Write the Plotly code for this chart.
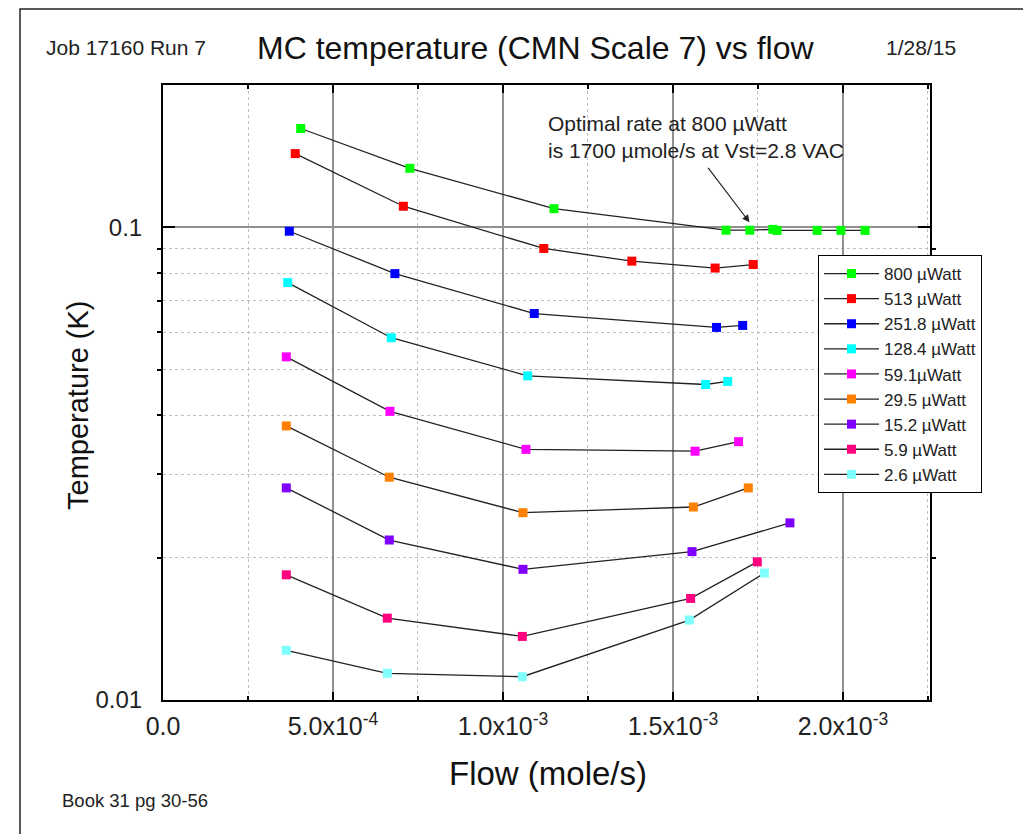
import plotly.graph_objects as go
import numpy as np

# ---- data (flow in mole/s, temperature in K) ----
series_names = ["800 \u00b5Watt", "513 \u00b5Watt", "251.8 \u00b5Watt", "128.4 \u00b5Watt",
                "59.1\u00b5Watt", "29.5 \u00b5Watt", "15.2 \u00b5Watt", "5.9 \u00b5Watt", "2.6 \u00b5Watt"]
series_colors = ["#00FF00", "#FF0000", "#0000FF", "#00FFFF", "#FF00FF",
                 "#FF8000", "#8000FF", "#FF0080", "#80FFFF"]

flow_800 = [0.405e-3, 0.726e-3, 1.150e-3, 1.656e-3, 1.726e-3, 1.794e-3, 1.806e-3, 1.924e-3, 1.994e-3, 2.065e-3]
temp_800 = [0.1618, 0.1333, 0.1095, 0.0986, 0.0986, 0.0990, 0.0985, 0.0985, 0.0985, 0.0985]

flow_513 = [0.389e-3, 0.707e-3, 1.120e-3, 1.379e-3, 1.624e-3, 1.736e-3]
temp_513 = [0.1432, 0.1108, 0.0902, 0.0848, 0.0820, 0.0834]

flow_251 = [0.3715e-3, 0.682e-3, 1.092e-3, 1.628e-3, 1.705e-3]
temp_251 = [0.0981, 0.0798, 0.0657, 0.0614, 0.0620]

flow_128 = [0.3668e-3, 0.6715e-3, 1.0726e-3, 1.596e-3, 1.661e-3]
temp_128 = [0.0764, 0.0584, 0.0485, 0.0465, 0.0472]

flow_59 = [0.3627e-3, 0.6676e-3, 1.0676e-3, 1.565e-3, 1.693e-3]
temp_59 = [0.0532, 0.0408, 0.0339, 0.0336, 0.0352]

flow_29 = [0.3627e-3, 0.6656e-3, 1.0588e-3, 1.560e-3, 1.7215e-3]
temp_29 = [0.0380, 0.0296, 0.0249, 0.0256, 0.0281]

flow_15 = [0.3627e-3, 0.6656e-3, 1.0588e-3, 1.5559e-3, 1.8441e-3]
temp_15 = [0.0281, 0.0218, 0.0189, 0.0206, 0.0237]

flow_5 = [0.3627e-3, 0.6597e-3, 1.0568e-3, 1.552e-3, 1.748e-3]
temp_5 = [0.0184, 0.0149, 0.01363, 0.0164, 0.0196]

flow_2 = [0.3627e-3, 0.6597e-3, 1.0568e-3, 1.548e-3, 1.769e-3]
temp_2 = [0.01274, 0.01139, 0.01120, 0.01476, 0.01856]

all_flows = [flow_800, flow_513, flow_251, flow_128, flow_59, flow_29, flow_15, flow_5, flow_2]
all_temps = [temp_800, temp_513, temp_251, temp_128, temp_59, temp_29, temp_15, temp_5, temp_2]

x_tickvals = [0, 5e-4, 1e-3, 1.5e-3, 2e-3]
x_ticktext = ["0.0", "5.0x10<sup>-4</sup>", "1.0x10<sup>-3</sup>", "1.5x10<sup>-3</sup>", "2.0x10<sup>-3</sup>"]
y_tickvals = [0.01, 0.1]
y_ticktext = ["0.01", "0.1"]
y_minorvals = [0.02, 0.03, 0.04, 0.05, 0.06, 0.07, 0.08, 0.09]

# annotation arrow (flow, temperature)
arrow_head = (1.725e-3, 0.1025)
arrow_tail = (1.60e-3, 0.1346)

FONT = "Liberation Sans, Arial, sans-serif"

fig = go.Figure()
for name, color, xs, ys in zip(series_names, series_colors, all_flows, all_temps):
    fig.add_trace(go.Scatter(
        x=xs, y=ys, name=name, mode="lines+markers",
        line=dict(color="#222222", width=1.3),
        marker=dict(symbol="square", size=9, color=color, line=dict(width=0)),
    ))

fig.update_layout(
    width=1031, height=834,
    paper_bgcolor="white", plot_bgcolor="white",
    margin=dict(l=155, r=109, t=77, b=142),
    font=dict(family=FONT, color="#222222"),
    showlegend=True,
    legend=dict(x=0.854, y=0.7236, xanchor="left", yanchor="top",
                bgcolor="white", bordercolor="black", borderwidth=1,
                font=dict(size=17, family=FONT, color="#222222"),
                tracegroupgap=0, itemwidth=55),
    xaxis=dict(
        range=[0, 2.256e-3], tickmode="array", tickvals=x_tickvals, ticktext=x_ticktext,
        tickfont=dict(size=25), ticks="inside", ticklen=8, tickwidth=2, tickcolor="black",
        showline=True, linecolor="black", linewidth=2, mirror="allticks",
        showgrid=True, gridcolor="#909090", gridwidth=1.5, zeroline=False,
        ticklabelstandoff=3,
        minor=dict(dtick=2.5e-4, tick0=0, ticks="inside", ticklen=4, tickcolor="black",
                   showgrid=True, gridcolor="#c0c0c0", griddash="dot", gridwidth=1),
    ),
    yaxis=dict(
        type="log", range=[-2, np.log10(0.2)], tickmode="array",
        tickvals=y_tickvals, ticktext=y_ticktext,
        tickfont=dict(size=24), ticks="inside", ticklen=12, tickwidth=2, tickcolor="black",
        showline=True, linecolor="black", linewidth=2, mirror="allticks",
        showgrid=True, gridcolor="#909090", gridwidth=1.5, zeroline=False,
        ticklabelstandoff=14,
        minor=dict(tickmode="array", tickvals=y_minorvals, ticks="outside", ticklen=4,
                   tickcolor="black", showgrid=True, gridcolor="#c0c0c0",
                   griddash="dot", gridwidth=1),
    ),
)

def px_x(px):
    return (px - 163) / 767.0

def px_y(py):
    return (700 - py) / 615.0

annotations = [
    dict(text="MC temperature (CMN Scale 7) vs flow", x=px_x(535), y=px_y(48),
         font=dict(size=32, family=FONT, color="#111111")),
    dict(text="Job 17160 Run 7", x=px_x(44), y=px_y(47), xanchor="left",
         font=dict(size=21, family=FONT, color="#222222")),
    dict(text="1/28/15", x=px_x(921), y=px_y(47),
         font=dict(size=21, family=FONT, color="#222222")),
    dict(text="Book 31 pg 30-56", x=px_x(60), y=px_y(800), xanchor="left",
         font=dict(size=18.5, family=FONT, color="#222222")),
    dict(text="Flow (mole/s)", x=px_x(548), y=px_y(773),
         font=dict(size=33, family=FONT, color="#111111")),
    dict(text="Temperature (K)", x=px_x(78), y=px_y(405), textangle=-90,
         font=dict(size=29, family=FONT, color="#111111")),
    dict(text="Optimal rate at 800 \u00b5Watt<br>is 1700 \u00b5mole/s at Vst=2.8 VAC",
         x=px_x(546), y=px_y(110), xanchor="left", yanchor="top", align="left",
         font=dict(size=21, family=FONT, color="#222222")),
]
for a in annotations:
    a.setdefault("xref", "paper")
    a.setdefault("yref", "paper")
    a.setdefault("showarrow", False)
    a.setdefault("xanchor", "center")
    a.setdefault("yanchor", "middle")
    fig.add_annotation(**a)

fig.add_annotation(
    x=arrow_head[0], y=np.log10(arrow_head[1]), xref="x", yref="y",
    ax=arrow_tail[0], ay=np.log10(arrow_tail[1]), axref="x", ayref="y",
    text="", showarrow=True, arrowhead=2, arrowsize=1.2, arrowwidth=1.2, arrowcolor="#222222",
)

# page border (decorative frame)
fig.add_shape(type="rect", xref="paper", yref="paper",
              x0=px_x(20), x1=px_x(1045), y0=px_y(860), y1=px_y(9),
              line=dict(color="#222222", width=1.5), layer="below")

fig.write_html("out.html")
